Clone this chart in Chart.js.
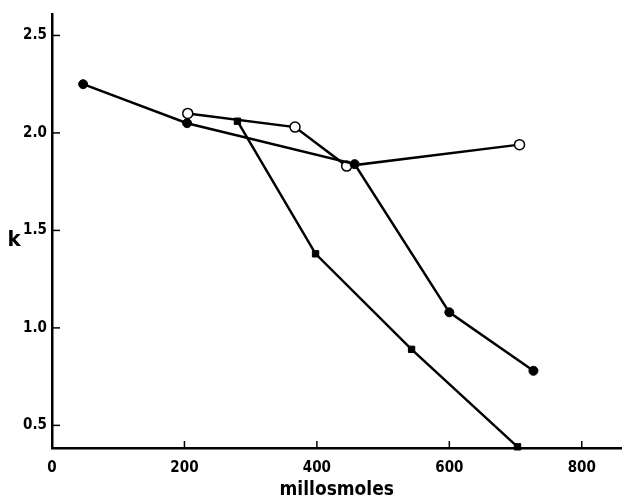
<!DOCTYPE html>
<html>
<head>
<meta charset="utf-8">
<script src="https://cdn.jsdelivr.net/npm/chart.js@4/dist/chart.umd.min.js"></script>
<style>
  body{margin:0;background:#fff;}
  #wrap{width:628px;height:501px;}
</style>
</head>
<body>
<div id="wrap"><canvas id="myChart" width="628" height="501"></canvas></div>
<script>
// values
var filledX = [47, 204, 457, 600, 727];
var filledK = [2.25, 2.05, 1.84, 1.08, 0.78];
var openX = [205, 367, 445, 706];
var openK = [2.10, 2.03, 1.83, 1.94];
var squareX = [280, 398, 543, 703];
var squareK = [2.06, 1.38, 0.89, 0.39];
var xTicks = [0, 200, 400, 600, 800];
var yTicks = [0.5, 1.0, 1.5, 2.0, 2.5];
var xTitle = "millosmoles";
var yTitle = "k";

var fontFam = "'DejaVu Sans Condensed', 'DejaVu Sans', sans-serif";
var fontWeight = "bold condensed";

function points(xs, ys){
  var pts = [];
  for (var i = 0; i < xs.length; i++) {
    pts.push({x: xs[i], y: ys[i]});
  }
  return pts;
}

// short tick marks pointing into the plot, plus the "k" label
var innerTicks = {
  id: 'innerTicks',
  afterDraw: function(chart){
    var ctx = chart.ctx;
    var area = chart.chartArea;
    var xs = chart.scales.x;
    var ys = chart.scales.y;
    ctx.save();
    ctx.strokeStyle = '#000';
    ctx.lineWidth = 1.5;
    for (var i = 0; i < yTicks.length; i++) {
      var py = ys.getPixelForValue(yTicks[i]);
      ctx.beginPath();
      ctx.moveTo(area.left, py);
      ctx.lineTo(area.left + 8, py);
      ctx.stroke();
    }
    for (var j = 1; j < xTicks.length; j++) {
      var px = xs.getPixelForValue(xTicks[j]);
      ctx.beginPath();
      ctx.moveTo(px, area.bottom);
      ctx.lineTo(px, area.bottom - 7);
      ctx.stroke();
    }
    ctx.fillStyle = '#000';
    ctx.font = 'normal bold condensed 22px ' + fontFam;
    ctx.textAlign = 'center';
    ctx.textBaseline = 'middle';
    ctx.fillText(yTitle, 14, 240);
    ctx.restore();
  }
};

function printgraph(){
  var ctx = document.getElementById('myChart').getContext('2d');
  var myChart = new Chart(ctx, {
    type: 'scatter',
    data: {
      datasets: [{
        label: 'filled',
        data: points(filledX, filledK),
        showLine: true,
        borderColor: '#000',
        backgroundColor: '#000',
        borderWidth: 2.5,
        pointStyle: 'circle',
        pointRadius: 4.5,
        pointBorderWidth: 1
      }, {
        label: 'open',
        data: points(openX, openK),
        showLine: true,
        borderColor: '#000',
        backgroundColor: '#fff',
        borderWidth: 2.5,
        pointStyle: 'circle',
        pointRadius: 5,
        pointBorderWidth: 1.5
      }, {
        label: 'square',
        data: points(squareX, squareK),
        showLine: true,
        borderColor: '#000',
        backgroundColor: '#000',
        borderWidth: 2.5,
        pointStyle: 'rect',
        pointRadius: 4.5,
        pointBorderWidth: 1
      }]
    },
    options: {
      responsive: false,
      animation: false,
      clip: false,
      layout: {padding: {top: 13, right: 3, left: 0, bottom: 0}},
      plugins: {
        legend: {display: false},
        tooltip: {enabled: false}
      },
      scales: {
        x: {
          type: 'linear',
          min: 0,
          max: 860,
          afterBuildTicks: function(s){
            s.ticks = xTicks.map(function(v){ return {value: v}; });
          },
          afterFit: function(s){ s.height = 53; },
          grid: {display: false, drawTicks: false},
          border: {display: true, color: '#000', width: 2.5},
          ticks: {
            color: '#000',
            padding: 11,
            font: {family: fontFam, size: 15, weight: fontWeight},
            callback: function(v){ return String(v); }
          },
          title: {
            display: true,
            text: xTitle,
            color: '#000',
            padding: {top: 0, bottom: 0},
            font: {family: fontFam, size: 19, weight: fontWeight}
          }
        },
        y: {
          type: 'linear',
          min: 0.384,
          max: 2.61,
          afterBuildTicks: function(s){
            s.ticks = yTicks.map(function(v){ return {value: v}; });
          },
          afterFit: function(s){ s.width = 52; },
          grid: {display: false, drawTicks: false},
          border: {display: true, color: '#000', width: 2.5},
          ticks: {
            color: '#000',
            padding: 5,
            font: {family: fontFam, size: 15, weight: fontWeight},
            callback: function(v){ return v.toFixed(1); }
          }
        }
      }
    },
    plugins: [innerTicks]
  });
}
printgraph();
</script>
</body>
</html>
